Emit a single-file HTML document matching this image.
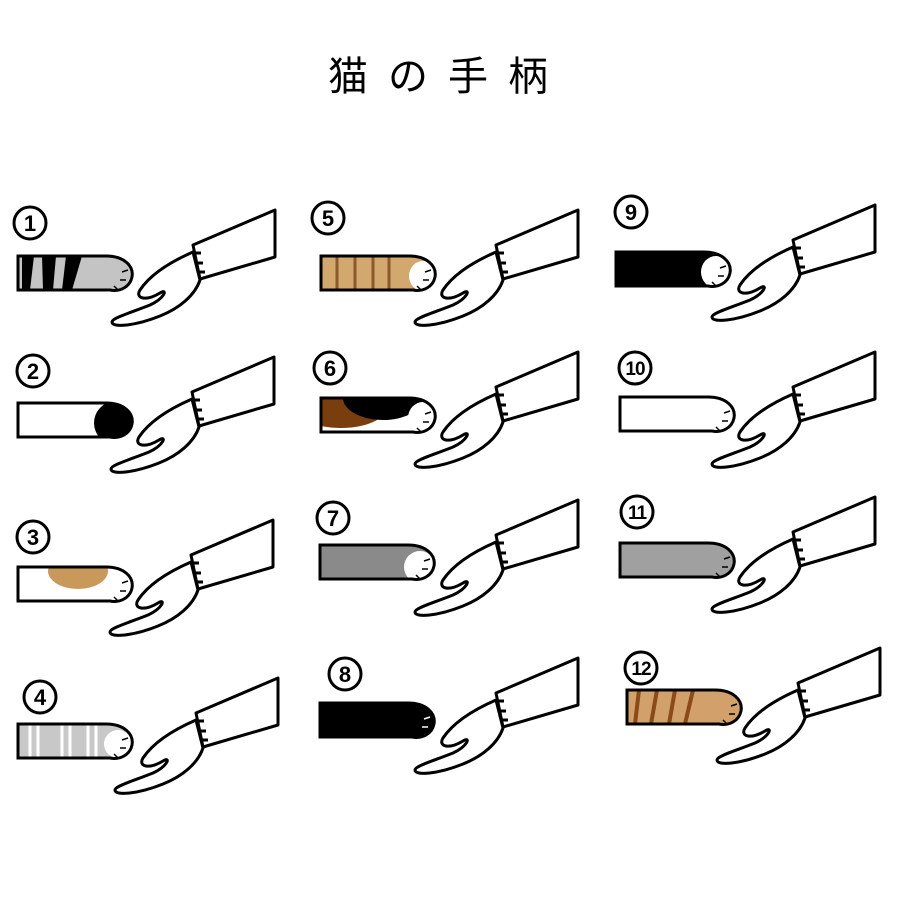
<!DOCTYPE html>
<html><head><meta charset="utf-8"><style>
body{margin:0;background:#fff}
svg{display:block}
.t{font-family:"Liberation Sans","Noto Sans CJK JP",sans-serif}
</style></head><body>
<svg width="900" height="900" viewBox="0 0 900 900" xmlns="http://www.w3.org/2000/svg">
<defs>
<g id="hand" fill="#fff" stroke="#000" stroke-width="3" stroke-linejoin="round">
<path d="M193,252 C170,262 150,275 140,290 C135,298 145,302 160,293 C168,288 165,298 150,305 C130,313 112,318 112,322 C112,328 135,326 160,316 C180,308 195,295 200,280 Z"/>
<polygon points="193,245 275,210 275,257 200,279"/>
<path d="M195,253 h6 M197,263 h6 M199,272 h6" fill="none"/>
</g>
<path id="paw" d="M0,0 H88 C106,0 116,10 114,21 C112,31 102,36 92,34 H0 Z"/>
<g id="toes" fill="none" stroke="#000" stroke-width="1.5"><path d="M104,16 l6,-2 M102,24 l6,0 M96,30 l4,4"/></g>
<g id="lab"><circle cx="0" cy="0" r="16" fill="#fff" stroke="#000" stroke-width="3"/></g>
<clipPath id="pc"><use href="#paw"/></clipPath>
</defs>
<text x="448" y="90" text-anchor="middle" class="t" font-size="40" font-weight="normal" letter-spacing="20">猫の手柄</text>

<use href="#hand" transform="translate(0,0)"/>
<use href="#hand" transform="translate(-1,147)"/>
<use href="#hand" transform="translate(-2,310)"/>
<use href="#hand" transform="translate(3,468)"/>
<use href="#hand" transform="translate(303,0)"/>
<use href="#hand" transform="translate(303,142)"/>
<use href="#hand" transform="translate(303,290)"/>
<use href="#hand" transform="translate(303,448)"/>
<use href="#hand" transform="translate(600,-5)"/>
<use href="#hand" transform="translate(600,142)"/>
<use href="#hand" transform="translate(600,287)"/>
<use href="#hand" transform="translate(605,438)"/>

<g transform="translate(18,256)"><g clip-path="url(#pc)"><use href="#paw" fill="#c4c4c4"/>
<path d="M4,0 h12 l-4,34 h-8Z M24,0 h14 l-3,34 h-10Z M48,0 h16 l-10,34 h-10Z" fill="#000"/></g>
<use href="#paw" fill="none" stroke="#000" stroke-width="3"/><use href="#toes"/></g>
<g transform="translate(18,403)"><g clip-path="url(#pc)"><use href="#paw" fill="#fff"/><circle cx="98" cy="20" r="22" fill="#000"/></g>
<use href="#paw" fill="none" stroke="#000" stroke-width="3"/><use href="#toes" stroke="#fff"/></g>
<g transform="translate(18,567)"><g clip-path="url(#pc)"><use href="#paw" fill="#fff"/><ellipse cx="60" cy="4" rx="30" ry="18" fill="#c9995c"/></g>
<use href="#paw" fill="none" stroke="#000" stroke-width="3"/><use href="#toes"/></g>
<g transform="translate(18,724)"><g clip-path="url(#pc)"><use href="#paw" fill="#c8c8c8"/>
<path d="M12,0v34M20,0v34M44,0v34M52,0v34M70,0v34M78,0v34" stroke="#fff" stroke-width="3"/>
<ellipse cx="100" cy="20" rx="14" ry="14" fill="#fff"/></g>
<use href="#paw" fill="none" stroke="#000" stroke-width="3"/><use href="#toes"/></g>
<g transform="translate(321,256)"><g clip-path="url(#pc)"><use href="#paw" fill="#d2a86e"/>
<path d="M16,0v34M34,0v34M52,0v34M68,0v34" stroke="#8a5a2a" stroke-width="3"/>
<ellipse cx="102" cy="20" rx="14" ry="15" fill="#fff"/></g>
<use href="#paw" fill="none" stroke="#000" stroke-width="3"/><use href="#toes"/></g>
<g transform="translate(321,398)"><g clip-path="url(#pc)"><use href="#paw" fill="#fff"/>
<ellipse cx="20" cy="10" rx="45" ry="20" fill="#7a3e0e"/>
<ellipse cx="62" cy="0" rx="40" ry="22" fill="#000"/>
<ellipse cx="102" cy="20" rx="15" ry="16" fill="#fff"/></g>
<use href="#paw" fill="none" stroke="#000" stroke-width="3"/><use href="#toes"/></g>
<g transform="translate(320,545)"><g clip-path="url(#pc)"><use href="#paw" fill="#8a8a8a"/><ellipse cx="100" cy="22" rx="16" ry="16" fill="#fff"/></g>
<use href="#paw" fill="none" stroke="#000" stroke-width="3"/><use href="#toes"/></g>
<g transform="translate(320,703)"><use href="#paw" fill="#000" stroke="#000" stroke-width="3"/>
<g fill="none" stroke="#fff" stroke-width="1.5"><path d="M104,16 l6,-2 M102,24 l6,0"/></g></g>
<g transform="translate(616,252)"><g clip-path="url(#pc)"><use href="#paw" fill="#000"/><ellipse cx="100" cy="20" rx="15" ry="16" fill="#fff"/></g>
<use href="#paw" fill="none" stroke="#000" stroke-width="3"/><use href="#toes"/></g>
<g transform="translate(620,397)"><use href="#paw" fill="#fff" stroke="#000" stroke-width="3"/><use href="#toes"/></g>
<g transform="translate(620,543)"><use href="#paw" fill="#a0a0a0" stroke="#000" stroke-width="3"/><use href="#toes"/></g>
<g transform="translate(627,690)"><g clip-path="url(#pc)"><use href="#paw" fill="#d2a06a"/>
<path d="M12,0 l-4,34 M30,0 l-6,34 M48,0 l-6,34 M66,0 l-8,34" stroke="#8a4a1a" stroke-width="4"/></g>
<use href="#paw" fill="none" stroke="#000" stroke-width="3"/><use href="#toes"/></g>

<g class="t" font-weight="bold" font-size="22" text-anchor="middle">
<use href="#lab" x="30" y="223"/><text x="30" y="231">1</text>
<use href="#lab" x="33" y="371"/><text x="33" y="379">2</text>
<use href="#lab" x="33" y="537"/><text x="33" y="545">3</text>
<use href="#lab" x="40" y="697"/><text x="40" y="705">4</text>
<use href="#lab" x="328" y="218"/><text x="328" y="226">5</text>
<use href="#lab" x="330" y="368"/><text x="330" y="376">6</text>
<use href="#lab" x="333" y="518"/><text x="333" y="526">7</text>
<use href="#lab" x="345" y="674"/><text x="345" y="682">8</text>
<use href="#lab" x="631" y="212"/><text x="631" y="220">9</text>
<use href="#lab" x="635" y="368"/><text x="635" y="375" font-size="19" letter-spacing="-1">10</text>
<use href="#lab" x="637" y="512"/><text x="637" y="519" font-size="19" letter-spacing="-1">11</text>
<use href="#lab" x="641" y="668"/><text x="641" y="675" font-size="19" letter-spacing="-1">12</text>
</g>
</svg>
</body></html>
